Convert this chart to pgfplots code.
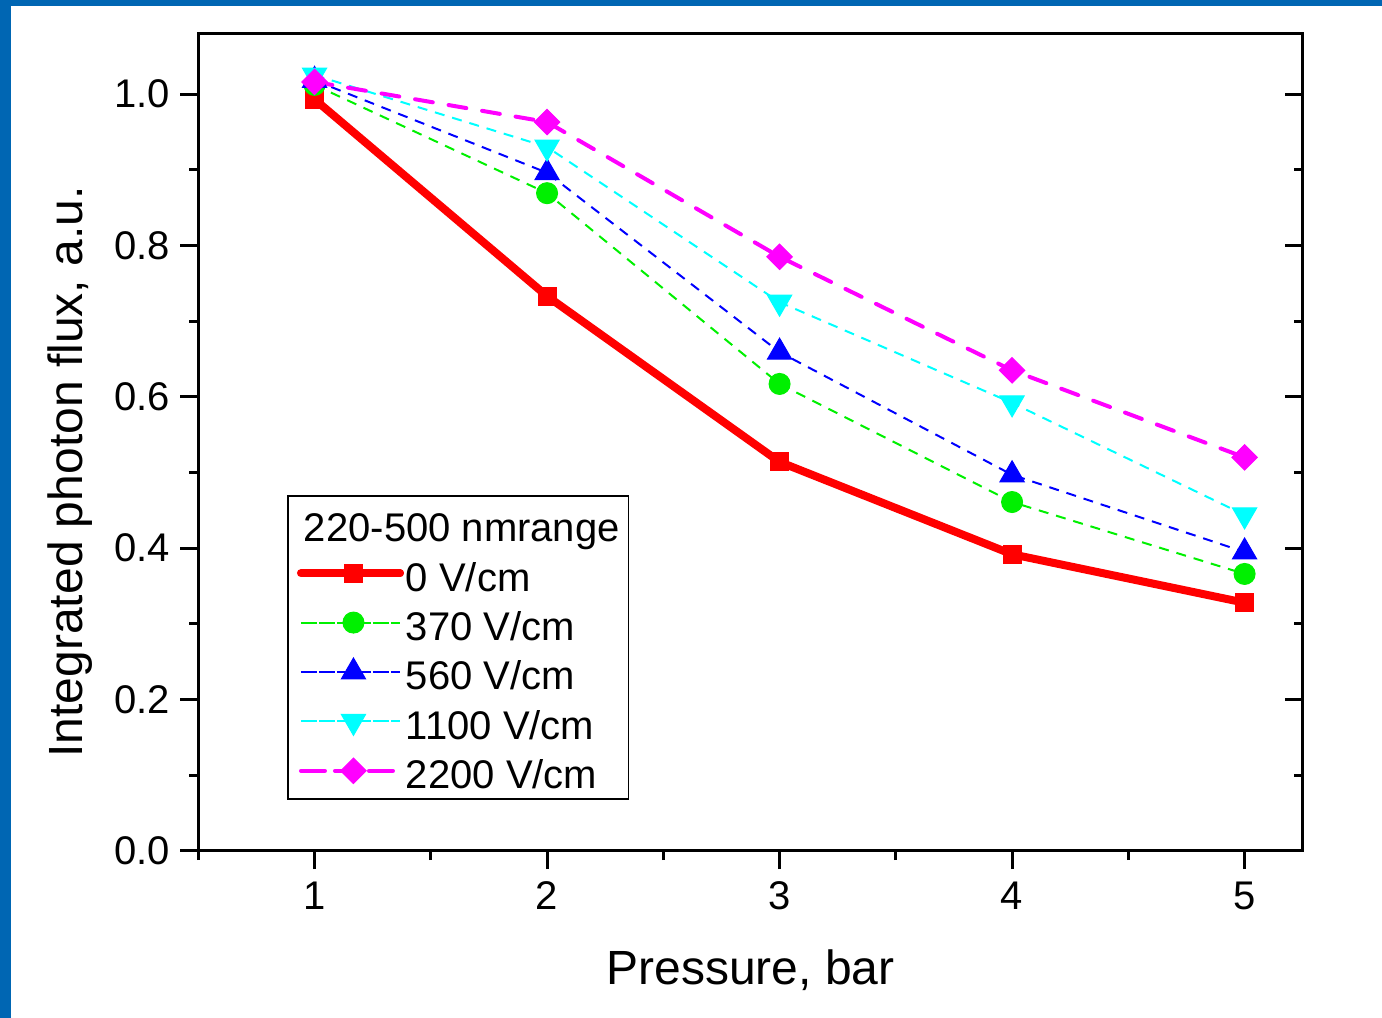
\documentclass[border=0pt]{standalone}
\usepackage{pgfplots}
\pgfplotsset{compat=1.18}
\usepackage{fontspec}
\setmainfont{Liberation Sans}
\definecolor{frameblue}{RGB}{0,102,179}
\definecolor{cgreen}{RGB}{0,240,0}
\definecolor{cblue}{RGB}{0,0,255}
\definecolor{ccyan}{RGB}{0,255,255}
\definecolor{cmag}{RGB}{255,0,255}
\definecolor{cred}{RGB}{255,0,0}
\begin{document}
\begin{tikzpicture}
\path[use as bounding box] (0,0) rectangle (691bp,509bp);
\fill[frameblue] (0,0) rectangle (5.5bp,509bp);
\fill[frameblue] (0,506bp) rectangle (691bp,509bp);
% right-side inward ticks
\begin{axis}[
  at={(99.15bp,83.5bp)}, anchor=south west,
  width=552.2bp, height=408.5bp, scale only axis,
  xmin=0.5, xmax=5.25, ymin=0, ymax=1.0793,
  hide x axis, axis y line*=right,
  ytick={0,0.2,0.4,0.6,0.8,1.0},
  minor ytick={0.1,0.3,0.5,0.7,0.9},
  yticklabels={},
  tick align=inside,
  major tick length=9bp, minor tick length=4.5bp,
  every tick/.style={black, line width=1.5bp},
  axis line style={line width=1.5bp},
]
\end{axis}
\begin{axis}[
  at={(99.15bp,83.5bp)}, anchor=south west,
  width=552.2bp, height=408.5bp, scale only axis,
  xmin=0.5, xmax=5.25, ymin=0, ymax=1.0793,
  xtick={1,2,3,4,5},
  minor xtick={0.5,1.5,2.5,3.5,4.5},
  ytick={0,0.2,0.4,0.6,0.8,1.0},
  minor ytick={0.1,0.3,0.5,0.7,0.9},
  xtick pos=bottom, ytick pos=left,
  tick align=outside,
  major tick length=9bp, minor tick length=4.5bp,
  every tick/.style={black, line width=1.5bp},
  axis line style={line width=1.5bp},
  /pgf/number format/assume math mode=true,
  yticklabel style={/pgf/number format/fixed, /pgf/number format/fixed zerofill, /pgf/number format/precision=1,
     anchor=east, inner sep=0pt, xshift=-5bp},
  xticklabel style={anchor=base, inner sep=0pt, yshift=-20bp},
  tick label style={font=\fontsize{20bp}{24bp}\selectfont},
  xlabel={Pressure, bar},
  ylabel={Integrated photon flux, a.u.},
  label style={font=\fontsize{24bp}{28bp}\selectfont},
  xlabel style={at={(axis description cs:0.5,-0.164)}, anchor=base, inner sep=0pt},
  ylabel style={at={(axis description cs:-0.1044,0.464)}, anchor=base, inner sep=0pt},
  legend cell align=left,
  legend style={at={(axis description cs:0.0805,0.4357)}, anchor=north west,
    draw=black, line width=0.75bp, inner xsep=4.5bp, inner ysep=2bp,
    font=\fontsize{20bp}{24bp}\selectfont, row sep=0.7bp, column sep=1bp,
    nodes={inner sep=0pt, text height=21bp, text depth=3bp}},
  legend image code/.code={\path (0bp,0bp) -- (49.5bp,0bp);
    \draw[#1, mark=none] (3bp,0bp) -- (49.5bp,0bp);
    \draw[#1] plot[only marks] coordinates {(26.25bp,0bp)};},
]
\addlegendimage{empty legend}
\addlegendentry{\hspace*{-51bp}220-500 nmrange}
\addplot[cred, line width=4bp, line cap=round, mark=square*, mark size=4.5bp, mark options={solid, line width=0.5bp}]
  coordinates {(1,0.993)(2,0.733)(3,0.514)(4,0.392)(5,0.328)};
\addlegendentry{0 V/cm}
\addplot[cgreen, line width=1bp, dash pattern=on 5bp off 4bp, mark=*, mark size=5.25bp, mark options={solid, line width=0.5bp},
  legend image post style={dash pattern=on 5bp off 4bp}]
  coordinates {(1,1.012)(2,0.869)(3,0.617)(4,0.461)(5,0.366)};
\addlegendentry{370 V/cm}
\addplot[cblue, line width=1bp, dash pattern=on 5bp off 4bp, mark=triangle*, mark size=7bp, mark options={solid, line width=0.5bp},
  legend image post style={dash pattern=on 5bp off 4bp}]
  coordinates {(1,1.018)(2,0.896)(3,0.659)(4,0.497)(5,0.395)};
\addlegendentry{560 V/cm}
\addplot[ccyan, line width=1bp, dash pattern=on 5bp off 4bp, mark=triangle*, mark size=7bp, mark options={solid, rotate=180, line width=0.5bp},
  legend image post style={dash pattern=on 5bp off 4bp}]
  coordinates {(1,1.025)(2,0.930)(3,0.725)(4,0.592)(5,0.444)};
\addlegendentry{1100 V/cm}
\addplot[cmag, line width=2bp, line cap=round, dash pattern=on 9bp off 8bp, mark=square*, mark size=4.5bp, mark options={solid, rotate=45, line width=0.5bp},
  legend image post style={dash pattern=on 9bp off 8bp}]
  coordinates {(1,1.016)(2,0.963)(3,0.785)(4,0.635)(5,0.520)};
\addlegendentry{2200 V/cm}
\end{axis}
\end{tikzpicture}
\end{document}
